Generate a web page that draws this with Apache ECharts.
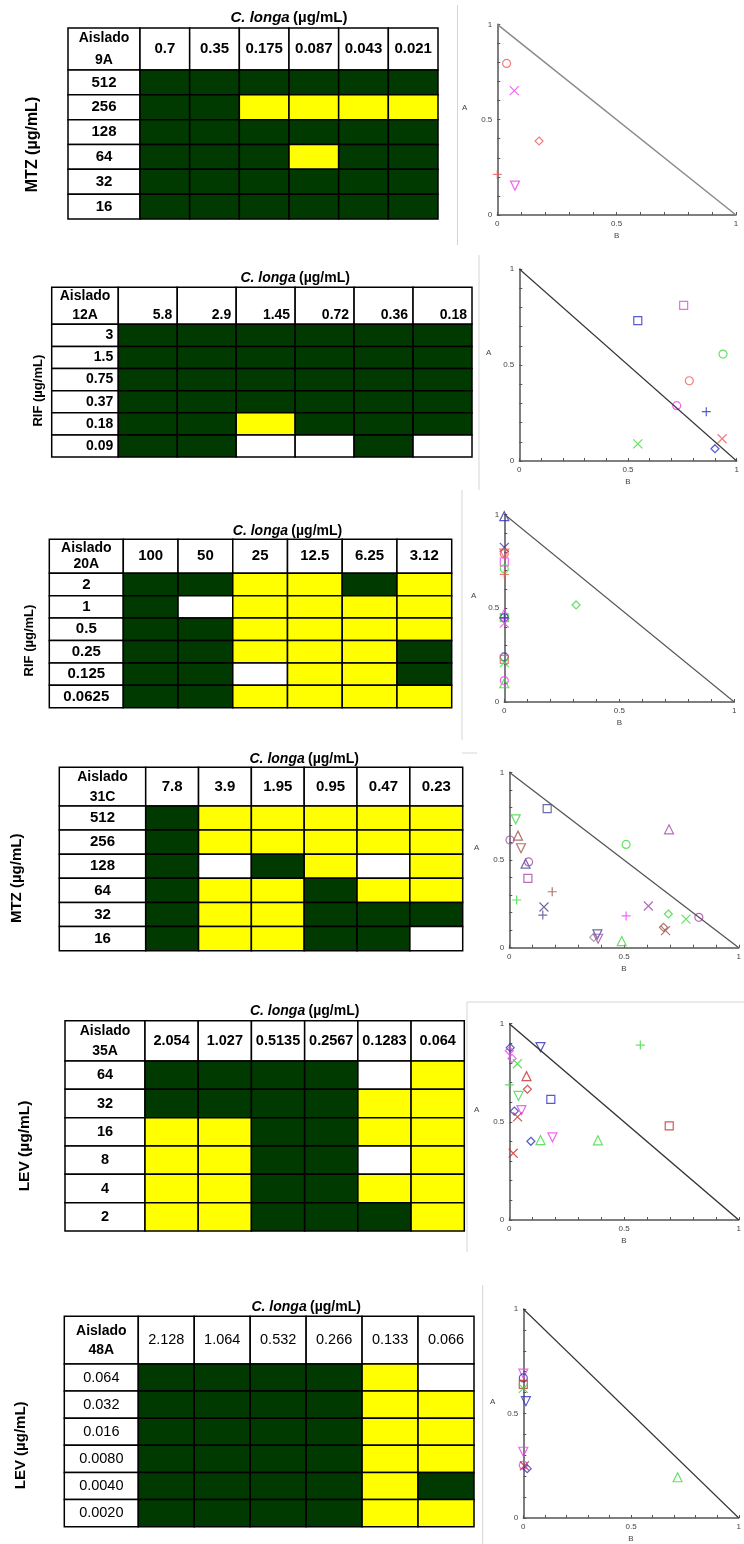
<!DOCTYPE html>
<html><head><meta charset="utf-8">
<script src="https://cdn.jsdelivr.net/npm/echarts@6/dist/echarts.min.js"></script>
<style>html,body{margin:0;padding:0;background:#fff}#c{width:744px;height:1544px}</style>
</head><body><div id="c"></div>
<script>
// ---------------- DATA ----------------
// cell codes: 0 = white (no growth data), 1 = dark green, 2 = yellow
const p1Corner = 'Aislado\n9A';
const p1YLabel = 'MTZ (µg/mL)';
const p1Cols = ['0.7','0.35','0.175','0.087','0.043','0.021'];
const p1Rows = ['512','256','128','64','32','16'];
const p1Cells = [
  [1,1,1,1,1,1],
  [1,1,2,2,2,2],
  [1,1,1,1,1,1],
  [1,1,1,2,1,1],
  [1,1,1,1,1,1],
  [1,1,1,1,1,1]
];
const p1Points = [
  [0.039,0.795,'circle','red'],[0.071,0.652,'cross','magenta'],[0.175,0.388,'diamond','red'],
  [0.0,0.213,'plus','red'],[0.074,0.154,'tridown','magenta']
];

const p2Corner = 'Aislado\n12A';
const p2YLabel = 'RIF (µg/mL)';
const p2Cols = ['5.8','2.9','1.45','0.72','0.36','0.18'];
const p2Rows = ['3','1.5','0.75','0.37','0.18','0.09'];
const p2Cells = [
  [1,1,1,1,1,1],
  [1,1,1,1,1,1],
  [1,1,1,1,1,1],
  [1,1,1,1,1,1],
  [1,1,2,1,1,1],
  [1,1,0,0,1,0]
];
const p2Points = [
  [0.545,0.731,'square','blue'],[0.756,0.811,'square','magenta'],[0.937,0.557,'circle','green'],
  [0.782,0.418,'circle','red'],[0.724,0.288,'circle','magenta'],[0.860,0.257,'plus','blue'],
  [0.933,0.116,'cross','red'],[0.900,0.064,'diamond','blue'],[0.545,0.089,'cross','green']
];

const p3Corner = 'Aislado\n20A';
const p3YLabel = 'RIF (µg/mL)';
const p3Cols = ['100','50','25','12.5','6.25','3.12'];
const p3Rows = ['2','1','0.5','0.25','0.125','0.0625'];
const p3Cells = [
  [1,1,2,2,1,2],
  [1,0,2,2,2,2],
  [1,1,2,2,2,2],
  [1,1,2,2,2,1],
  [1,1,0,2,2,1],
  [1,1,2,2,2,2]
];
const p3Points = [
  [0,0.99,'triangle','blue'],[0,0.824,'cross','blue'],[0,0.79,'tridown','red'],[0,0.79,'circle','red'],
  [0,0.746,'square','magenta'],[0,0.71,'circle','green'],[0,0.68,'plus','red'],[0,0.47,'triangle','magenta'],
  [0,0.45,'circle','blue'],[0,0.45,'square','green'],[0,0.45,'plus','blue'],[0,0.42,'cross','magenta'],
  [0.312,0.517,'diamond','green'],[0,0.24,'circle','blue'],[0,0.227,'square','red'],[0,0.21,'cross','green'],
  [0,0.114,'circle','magenta'],[0,0.10,'triangle','green']
];

const p4Corner = 'Aislado\n31C';
const p4YLabel = 'MTZ (µg/mL)';
const p4Cols = ['7.8','3.9','1.95','0.95','0.47','0.23'];
const p4Rows = ['512','256','128','64','32','16'];
const p4Cells = [
  [1,2,2,2,2,2],
  [1,2,2,2,2,2],
  [1,0,1,2,0,2],
  [1,2,2,1,2,2],
  [1,2,2,1,1,1],
  [1,2,2,1,1,0]
];
const p4Points = [
  [0.165,0.793,'square','navy'],[0.028,0.732,'tridown','green'],[0.038,0.639,'triangle','brown'],
  [0.003,0.614,'circle','purple'],[0.051,0.567,'tridown','brown'],[0.071,0.479,'triangle','navy'],
  [0.084,0.489,'circle','purple'],[0.081,0.395,'square','purple'],[0.187,0.319,'plus','brown'],
  [0.032,0.272,'plus','green'],[0.151,0.232,'cross','navy'],[0.146,0.186,'plus','navy'],
  [0.509,0.589,'circle','green'],[0.696,0.675,'triangle','purple'],[0.606,0.238,'cross','purple'],
  [0.509,0.181,'plus','magenta'],[0.693,0.192,'diamond','green'],[0.770,0.163,'cross','green'],
  [0.826,0.173,'circle','purple'],[0.672,0.116,'diamond','brown'],[0.681,0.097,'cross','brown'],
  [0.384,0.076,'tridown','navy'],[0.368,0.059,'diamond','gray'],[0.387,0.051,'tridown','purple'],
  [0.490,0.038,'triangle','green']
];

const p5Corner = 'Aislado\n35A';
const p5YLabel = 'LEV (µg/mL)';
const p5Cols = ['2.054','1.027','0.5135','0.2567','0.1283','0.064'];
const p5Rows = ['64','32','16','8','4','2'];
const p5Cells = [
  [1,1,1,1,0,2],
  [1,1,1,1,2,2],
  [2,2,1,1,2,2],
  [2,2,1,1,0,2],
  [2,2,1,1,2,2],
  [2,2,1,1,1,2]
];
const p5Points = [
  [0.004,0.878,'diamond','blue'],[0.0,0.862,'diamond','magenta'],[0.136,0.881,'tridown','blue'],
  [0.571,0.891,'plus','green'],[0.012,0.823,'diamond','magenta'],[0.035,0.796,'cross','green'],
  [0.075,0.733,'triangle','darkred'],[0.0,0.688,'plus','green'],[0.079,0.666,'diamond','darkred'],
  [0.040,0.632,'tridown','green'],[0.181,0.615,'square','blue'],[0.022,0.555,'diamond','blue'],
  [0.053,0.560,'tridown','magenta'],[0.036,0.525,'cross','darkred'],[0.697,0.480,'square','darkred'],
  [0.094,0.401,'diamond','blue'],[0.136,0.407,'triangle','green'],[0.188,0.421,'tridown','magenta'],
  [0.386,0.406,'triangle','green'],[0.017,0.340,'cross','darkred']
];

const p6Corner = 'Aislado\n48A';
const p6YLabel = 'LEV (µg/mL)';
const p6Cols = ['2.128','1.064','0.532','0.266','0.133','0.066'];
const p6Rows = ['0.064','0.032','0.016','0.0080','0.0040','0.0020'];
const p6Cells = [
  [1,1,1,1,2,0],
  [1,1,1,1,2,2],
  [1,1,1,1,2,2],
  [1,1,1,1,2,2],
  [1,1,1,1,2,1],
  [1,1,1,1,2,2]
];
const p6Points = [
  [0,0.691,'tridown','magenta'],[0,0.670,'circle','blue'],[0,0.639,'square','darkred'],
  [0,0.62,'cross','green'],[0.012,0.559,'tridown','blue'],[0,0.317,'tridown','magenta'],
  [0,0.252,'circle','magenta'],[0.005,0.25,'cross','darkred'],[0.018,0.236,'diamond','blue'],
  [0.716,0.195,'triangle','green']
];

const isoLine = [[0,1],[1,0]];
const titleText = '{i|C. longa} {n|(µg/mL)}';

// ---------------- STYLE / LAYOUT ----------------
const FONT = '"Liberation Sans", Arial, sans-serif';
const CELL_COLORS = ['#ffffff', '#013a01', '#ffff00'];
const PT_COLORS = {red:'#f05a5a', magenta:'#f040f0', blue:'#3030c0', green:'#40d840', brown:'#a05048',
  purple:'#a048a8', navy:'#484890', gray:'#909090', darkred:'#c83030'};
const SYMBOLS = {circle:'circle', diamond:'diamond', square:'rect', triangle:'triangle',
  tridown:'path://M0,0L10,0L5,8.66Z', cross:'path://M0,0L10,10M10,0L0,10', plus:'path://M5,0L5,10M0,5L10,5'};
const SIZES = {circle:8, diamond:8, square:8, triangle:9, tridown:9, cross:9, plus:9};

const tables = [
  {cols:p1Cols, rows:p1Rows, cells:p1Cells, corner:p1Corner, ylab:p1YLabel},
  {cols:p2Cols, rows:p2Rows, cells:p2Cells, corner:p2Corner, ylab:p2YLabel},
  {cols:p3Cols, rows:p3Rows, cells:p3Cells, corner:p3Corner, ylab:p3YLabel},
  {cols:p4Cols, rows:p4Rows, cells:p4Cells, corner:p4Corner, ylab:p4YLabel},
  {cols:p5Cols, rows:p5Rows, cells:p5Cells, corner:p5Corner, ylab:p5YLabel},
  {cols:p6Cols, rows:p6Rows, cells:p6Cells, corner:p6Corner, ylab:p6YLabel}
];
const points = [p1Points, p2Points, p3Points, p4Points, p5Points, p6Points];

// table layout (pixels): table-left, cols-left, table-right, header-top, header-bottom, body-bottom
const TL = [
  {tl:68,   cl:140,   tr:438,   ht:28,     hb:70,     bb:219,    fs:15,  fw:'bold',   align:'center', cfs:14, clh:22, tfs:15, tg:3,  yfs:16,   yg:27},
  {tl:51.7, cl:118.3, tr:472,   ht:287.3,  hb:324.3,  bb:457,    fs:14,  fw:'bold',   align:'right',  cfs:14, clh:19, tfs:14, tg:2,  yfs:13,   yg:7},
  {tl:49.3, cl:123.3, tr:451.7, ht:539.3,  hb:573.3,  bb:707.7,  fs:15,  fw:'bold',   align:'center', cfs:14, clh:16, tfs:14, tg:1,  yfs:13,   yg:13},
  {tl:59.3, cl:145.7, tr:462.7, ht:767.3,  hb:806,    bb:950.7,  fs:15,  fw:'bold',   align:'center', cfs:14, clh:20, tfs:14, tg:1,  yfs:15,   yg:35},
  {tl:65,   cl:145,   tr:464.3, ht:1020.7, hb:1061,   bb:1231,   fs:14.5,fw:'bold',   align:'center', cfs:14, clh:20, tfs:14, tg:3,  yfs:15.5, yg:32},
  {tl:64.3, cl:138.3, tr:474,   ht:1316.3, hb:1364,   bb:1526.7, fs:14.5,fw:'normal', align:'center', cfs:14, clh:19, tfs:14, tg:2,  yfs:15,   yg:36}
];
// scatter layout: plot left/right/top/bottom, A-name gap, diagonal colour
const SL = [
  {l:497.3, r:736,   t:24.3,   b:215,    ag:30, dc:'#8a8a8a', dw:1.5},
  {l:519.3, r:736.7, t:269,    b:461,    ag:28, dc:'#333', dw:1.1},
  {l:504.3, r:734.3, t:514.3,  b:702,    ag:28, dc:'#555', dw:1.1},
  {l:509.3, r:739.3, t:772.3,  b:947.7,  ag:30, dc:'#555', dw:1.3},
  {l:509.3, r:740,   t:1023.7, b:1220,   ag:30, dc:'#333', dw:1.4},
  {l:523.3, r:744,   t:1309,   b:1519.3, ag:28, dc:'#333', dw:1.1}
];

const option = {animation:false, backgroundColor:'#ffffff', grid:[], xAxis:[], yAxis:[], series:[], graphic:[]};

function hiddenAxis(extra) {
  return Object.assign({axisLine:{show:false}, axisTick:{show:false}, axisLabel:{show:false}, splitLine:{show:false}}, extra);
}
function addGrid(l, t, w, h) {
  option.grid.push({left:l, top:t, width:w, height:h, containLabel:false});
  return option.grid.length - 1;
}
function makeRender(getText, getFill, ts) {
  return function (params, api) {
    const c = api.coord([api.value(0), api.value(1)]);
    const s = api.size([1, 1]);
    const x0 = c[0] - s[0] / 2, y0 = c[1] - s[1] / 2;
    const children = [{type:'rect', shape:{x:x0, y:y0, width:s[0], height:s[1]},
      style:{fill:getFill(params.dataIndex, api), stroke:'#000', lineWidth:1.5}}];
    const t = getText ? getText(params.dataIndex) : null;
    if (t != null) {
      let tx = c[0], ty = c[1], align = 'center', va = 'middle';
      if (ts.align === 'right') { tx = x0 + s[0] - 5; align = 'right'; }
      if (ts.va === 'bottom') { ty = y0 + s[1] - 2; va = 'bottom'; }
      children.push({type:'text', style:{text:t, x:tx, y:ty, align:align, verticalAlign:va,
        fontSize:ts.fs, fontWeight:ts.fw, fontFamily:FONT, fill:'#000', lineHeight:ts.lh}});
    }
    return {type:'group', children:children};
  };
}

tables.forEach(function (d, k) {
  const L = TL[k];
  const white = function () { return '#ffffff'; };
  // corner cell
  let g = addGrid(L.tl, L.ht, L.cl - L.tl, L.hb - L.ht);
  option.xAxis.push(hiddenAxis({type:'category', gridIndex:g, data:['c']}));
  option.yAxis.push(hiddenAxis({type:'category', gridIndex:g, data:['c']}));
  option.series.push({type:'custom', xAxisIndex:g, yAxisIndex:g, data:[[0,0]],
    renderItem: makeRender(function () { return d.corner; }, white, {fs:L.cfs, fw:'bold', lh:L.clh})});
  // header row
  g = addGrid(L.cl, L.ht, L.tr - L.cl, L.hb - L.ht);
  option.xAxis.push(hiddenAxis({type:'category', gridIndex:g, data:d.cols, position:'top',
    name:titleText, nameLocation:'middle', nameGap:L.tg,
    nameTextStyle:{rich:{
      i:{fontStyle:'italic', fontWeight:'bold', fontSize:L.tfs, fontFamily:FONT, color:'#000'},
      n:{fontWeight:'bold', fontSize:L.tfs, fontFamily:FONT, color:'#000'}}}}));
  option.yAxis.push(hiddenAxis({type:'category', gridIndex:g, data:['h']}));
  option.series.push({type:'custom', xAxisIndex:g, yAxisIndex:g, data:d.cols.map(function (c, i) { return [i, 0]; }),
    renderItem: makeRender(function (i) { return d.cols[i]; }, white,
      {fs:L.fs, fw:L.fw, align:L.align, va:(L.align === 'right' ? 'bottom' : 'middle')})});
  // row label column
  g = addGrid(L.tl, L.hb, L.cl - L.tl, L.bb - L.hb);
  option.xAxis.push(hiddenAxis({type:'category', gridIndex:g, data:['r']}));
  option.yAxis.push(hiddenAxis({type:'category', gridIndex:g, data:d.rows, inverse:true,
    name:d.ylab, nameLocation:'middle', nameRotate:90, nameGap:L.yg,
    nameTextStyle:{fontWeight:'bold', fontSize:L.yfs, fontFamily:FONT, color:'#000'}}));
  option.series.push({type:'custom', xAxisIndex:g, yAxisIndex:g, data:d.rows.map(function (r, i) { return [0, i]; }),
    renderItem: makeRender(function (i) { return d.rows[i]; }, white, {fs:L.fs, fw:L.fw, align:L.align})});
  // body cells
  g = addGrid(L.cl, L.hb, L.tr - L.cl, L.bb - L.hb);
  option.xAxis.push(hiddenAxis({type:'category', gridIndex:g, data:d.cols}));
  option.yAxis.push(hiddenAxis({type:'category', gridIndex:g, data:d.rows, inverse:true}));
  const body = [];
  d.cells.forEach(function (row, r) { row.forEach(function (v, c) { body.push([c, r, v]); }); });
  option.series.push({type:'custom', xAxisIndex:g, yAxisIndex:g, data:body,
    renderItem: makeRender(null, function (i, api) { return CELL_COLORS[api.value(2)]; }, {})});
});

function tickLabel(v) {
  const r = Math.round(v * 10) / 10;
  return (r === 0 || r === 0.5 || r === 1) ? String(r) : '';
}
points.forEach(function (pts, k) {
  const S = SL[k];
  const g = addGrid(S.l, S.t, S.r - S.l, S.b - S.t);
  const axisBase = {type:'value', gridIndex:g, min:0, max:1, interval:0.1,
    axisLine:{show:true, onZero:false, lineStyle:{color:'#555', width:1.5}},
    axisTick:{show:true, inside:true, length:3, lineStyle:{color:'#555', width:1}},
    axisLabel:{formatter:tickLabel, fontSize:8, color:'#444', fontFamily:FONT, margin:5},
    splitLine:{show:false}, nameLocation:'middle'};
  option.xAxis.push(Object.assign({}, axisBase, {name:'B', nameGap:17,
    nameTextStyle:{fontSize:8, color:'#444', fontFamily:FONT}}));
  option.yAxis.push(Object.assign({}, axisBase, {name:'A', nameRotate:0, nameGap:S.ag,
    nameTextStyle:{fontSize:8, color:'#444', fontFamily:FONT, verticalAlign:'bottom', lineHeight:24}}));
  option.series.push({type:'line', xAxisIndex:g, yAxisIndex:g, data:isoLine, symbol:'none',
    lineStyle:{color:S.dc, width:S.dw}, silent:true});
  option.series.push({type:'scatter', xAxisIndex:g, yAxisIndex:g, clip:false,
    data: pts.map(function (p) {
      return {value:[p[0], p[1]], symbol:SYMBOLS[p[2]], symbolSize:SIZES[p[2]],
        itemStyle:{color:'rgba(0,0,0,0)', borderColor:PT_COLORS[p[3]], borderWidth:1.2}};
    })});
});

// thin panel separators
const SEP = '#d6d6d6';
[[457.5,5,457.5,245],[479,255,479,490],[462,490,462,740],[462,753,477,753],
 [467,1002,744,1002],[467,1002,467,1252],[482.7,1285,482.7,1544]].forEach(function (s) {
  option.graphic.push({type:'line', silent:true, shape:{x1:s[0], y1:s[1], x2:s[2], y2:s[3]}, style:{stroke:SEP, lineWidth:1}});
});

const chart = echarts.init(document.getElementById('c'), null, {renderer:'canvas'});
chart.setOption(option);
</script></body></html>
